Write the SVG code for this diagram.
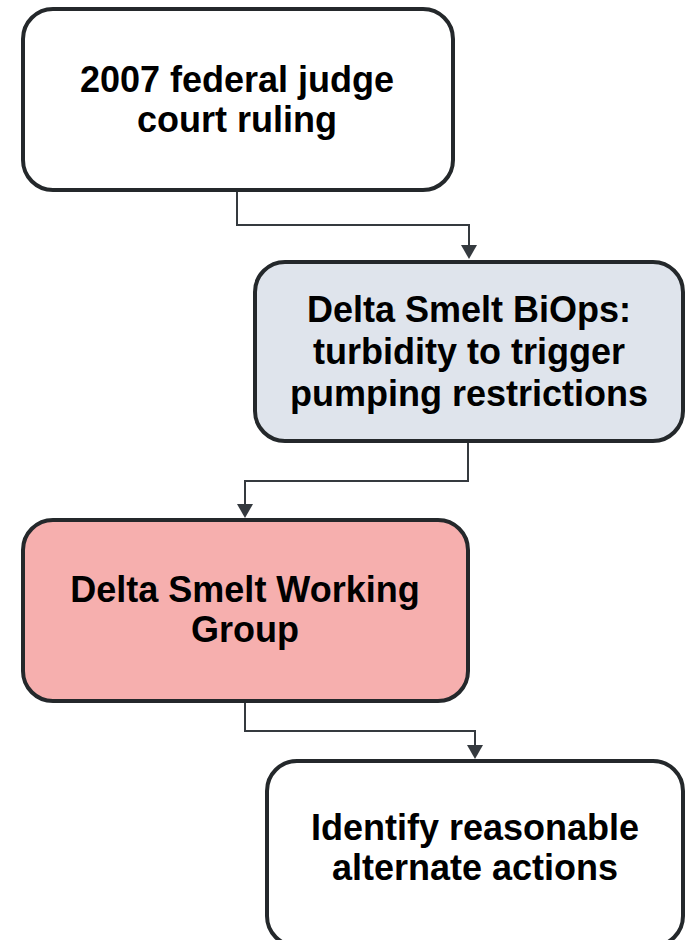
<svg xmlns="http://www.w3.org/2000/svg" width="689" height="940" viewBox="0 0 689 940">
  <style>
    .box { stroke: #24282b; stroke-width: 4; }
    .plain { fill: #ffffff; }
    .blue { fill: #dfe4ec; }
    .pink { fill: #f6afae; }
    .label { font-family: "Liberation Sans", Arial, sans-serif; font-weight: bold; font-size: 36px; fill: #000000; text-anchor: middle; }
    .link { fill: none; stroke: #353a3f; stroke-width: 2; }
  </style>
  <defs>
    <marker id="arrow" viewBox="0 0 14 16" refX="0" refY="8" markerWidth="14" markerHeight="16" markerUnits="userSpaceOnUse" orient="auto">
      <path d="M0 0 L14 8 L0 16 z" fill="#353a3f"/>
    </marker>
  </defs>
  <rect width="689" height="940" fill="#ffffff"/>

  <g id="connectors">
    <path class="link" d="M237 192 V225 H469 V245" marker-end="url(#arrow)"/>
    <path class="link" d="M468 443 V481 H245 V504" marker-end="url(#arrow)"/>
    <path class="link" d="M245 703 V731 H475 V745" marker-end="url(#arrow)"/>
  </g>

  <g id="ruling">
    <rect class="box plain" x="23" y="9" width="430" height="181" rx="30"/>
    <text class="label" x="237" y="92">2007 federal judge</text>
    <text class="label" x="237" y="132">court ruling</text>
  </g>

  <g id="biops">
    <rect class="box blue" x="255" y="262" width="428" height="179" rx="30"/>
    <text class="label" x="469" y="322">Delta Smelt BiOps:</text>
    <text class="label" x="469" y="364">turbidity to trigger</text>
    <text class="label" x="469" y="406">pumping restrictions</text>
  </g>

  <g id="working-group">
    <rect class="box pink" x="23" y="520" width="445" height="181" rx="30"/>
    <text class="label" x="245" y="602">Delta Smelt Working</text>
    <text class="label" x="245" y="642">Group</text>
  </g>

  <g id="alternatives">
    <rect class="box plain" x="267" y="761" width="416" height="185" rx="30"/>
    <text class="label" x="475" y="840">Identify reasonable</text>
    <text class="label" x="475" y="880">alternate actions</text>
  </g>
</svg>
